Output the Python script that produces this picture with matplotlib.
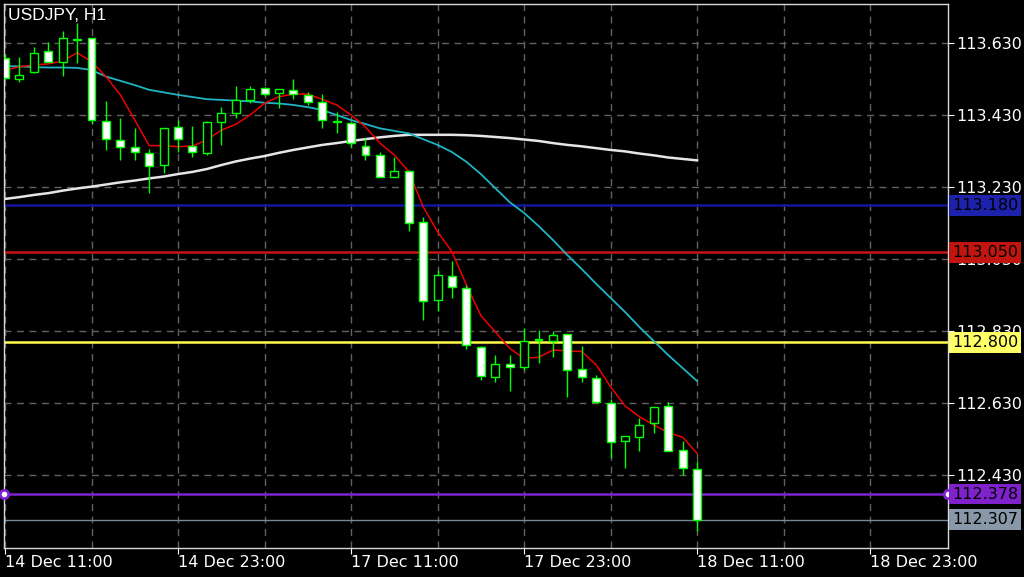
#IMPORTS
import matplotlib
matplotlib.use('Agg')
import matplotlib.pyplot as plt
import matplotlib.transforms as mtransforms

#DATA
# hourly bars, index 0 = 14 Dec 11:00, index 48 = 18 Dec 11:00
opens = [113.589, 113.531, 113.551, 113.609, 113.578, 113.640, 113.645, 113.414, 113.361, 113.342,
         113.325, 113.292, 113.398, 113.345, 113.326, 113.413, 113.436, 113.473, 113.505, 113.491,
         113.501, 113.487, 113.466, 113.413, 113.410, 113.346, 113.320, 113.260, 113.276, 113.133,
         112.917, 112.985, 112.951, 112.788, 112.703, 112.739, 112.730, 112.806, 112.804, 112.822,
         112.725, 112.701, 112.630, 112.526, 112.537, 112.575, 112.623, 112.501, 112.448]
highs = [113.600, 113.592, 113.620, 113.634, 113.665, 113.687, 113.646, 113.470, 113.423, 113.395,
         113.337, 113.396, 113.417, 113.400, 113.414, 113.454, 113.512, 113.512, 113.510, 113.503,
         113.530, 113.496, 113.489, 113.440, 113.411, 113.366, 113.329, 113.315, 113.279, 113.149,
         113.000, 113.026, 112.959, 112.789, 112.764, 112.764, 112.839, 112.834, 112.832, 112.824,
         112.789, 112.709, 112.641, 112.539, 112.589, 112.621, 112.635, 112.526, 112.471]
lows = [113.530, 113.523, 113.548, 113.578, 113.540, 113.576, 113.406, 113.334, 113.306, 113.306,
        113.214, 113.270, 113.328, 113.315, 113.320, 113.348, 113.422, 113.464, 113.485, 113.450,
        113.475, 113.459, 113.394, 113.380, 113.341, 113.306, 113.260, 113.259, 113.110, 112.862,
        112.888, 112.922, 112.781, 112.695, 112.690, 112.665, 112.723, 112.743, 112.760, 112.649,
        112.690, 112.632, 112.477, 112.451, 112.499, 112.549, 112.498, 112.431, 112.276]
closes = [113.534, 113.542, 113.603, 113.578, 113.645, 113.642, 113.417, 113.364, 113.342, 113.328,
          113.289, 113.395, 113.364, 113.328, 113.413, 113.436, 113.473, 113.502, 113.489, 113.502,
          113.489, 113.466, 113.417, 113.412, 113.352, 113.320, 113.260, 113.276, 113.132, 112.914,
          112.987, 112.954, 112.792, 112.706, 112.739, 112.730, 112.804, 112.808, 112.820, 112.723,
          112.703, 112.633, 112.522, 112.539, 112.570, 112.621, 112.499, 112.450, 112.307]

# moving averages
ma_fast = [113.556, 113.565, 113.570, 113.573, 113.581, 113.604, 113.579, 113.538, 113.487, 113.417,
           113.346, 113.346, 113.343, 113.345, 113.362, 113.389, 113.405, 113.431, 113.464, 113.482,
           113.489, 113.489, 113.475, 113.459, 113.431, 113.398, 113.353, 113.320, 113.274, 113.176,
           113.107, 113.051, 112.959, 112.874, 112.829, 112.783, 112.755, 112.758, 112.778, 112.776,
           112.774, 112.737, 112.676, 112.623, 112.593, 112.570, 112.549, 112.536, 112.491]
ma_mid = [113.567, 113.566, 113.564, 113.563, 113.563, 113.562, 113.556, 113.538, 113.526, 113.514,
          113.501, 113.494, 113.487, 113.481, 113.475, 113.473, 113.471, 113.469, 113.465, 113.463,
          113.459, 113.453, 113.445, 113.431, 113.417, 113.406, 113.394, 113.387, 113.380, 113.364,
          113.348, 113.328, 113.301, 113.267, 113.228, 113.189, 113.159, 113.123, 113.084, 113.042,
          113.003, 112.962, 112.923, 112.884, 112.842, 112.803, 112.764, 112.728, 112.692]
ma_slow = [113.198, 113.203, 113.209, 113.214, 113.221, 113.227, 113.232, 113.238, 113.244, 113.249,
           113.255, 113.260, 113.267, 113.273, 113.281, 113.292, 113.302, 113.310, 113.317, 113.326,
           113.334, 113.341, 113.348, 113.353, 113.359, 113.364, 113.369, 113.373, 113.376, 113.376,
           113.376, 113.376, 113.375, 113.373, 113.370, 113.367, 113.363, 113.359, 113.353, 113.348,
           113.344, 113.339, 113.334, 113.330, 113.324, 113.319, 113.313, 113.309, 113.305]

# horizontal levels and their label colours
levels = [113.180, 113.050, 112.800, 112.378, 112.307]
level_colors = ['#14149c', '#c81414', '#ffff4a', '#7f22d2', '#778899']
label_colors = ['#1e22aa', '#c0160f', '#ffff66', '#7f22cc', '#8898a8']

y_ticks = [113.630, 113.430, 113.230, 113.030, 112.830, 112.630, 112.430]
x_tick_pos = [0, 12, 24, 36, 48, 60]
x_tick_labels = ['14 Dec 11:00', '14 Dec 23:00', '17 Dec 11:00', '17 Dec 23:00',
                 '18 Dec 11:00', '18 Dec 23:00']

#FIGURE
fig = plt.figure(figsize=(10.24, 5.77), dpi=100, facecolor='black')
ax = fig.add_axes([4 / 1024, 1 - 548 / 577, 944 / 1024, 544 / 577])
ax.set_facecolor('black')
ax.set_xlim(-0.07, 65.4)
ax.set_ylim(112.2283, 113.7394)

# grid
ax.set_axisbelow(True)
ax.set_xticks(x_tick_pos)
ax.set_xticks([6, 18, 30, 42, 54], minor=True)
ax.set_yticks(y_ticks)
ax.grid(which='both', color='#626262', linestyle=(0, (5, 4)), linewidth=1)

# level lines
for lvl, col in zip(levels, level_colors):
    ax.axhline(lvl, color=col, linewidth=1 if lvl == levels[-1] else 1.8, zorder=1)
ax.plot([-0.07, 65.4], [levels[3], levels[3]], 'o', ms=6, mfc='white', mec=level_colors[3],
        mew=2, clip_on=False, zorder=4)

# moving averages
idx = list(range(len(closes)))
ax.plot(idx, ma_slow, color='#e6e6e6', linewidth=1.8, zorder=2)
ax.plot(idx, ma_mid, color='#1fb4c4', linewidth=1.3, zorder=2)
ax.plot(idx, ma_fast, color='#f00000', linewidth=1.1, zorder=2)

# candles
ax.vlines(idx, lows, highs, color='#00ff00', linewidth=1, zorder=3)
bottoms = [min(o, c) for o, c in zip(opens, closes)]
heights = [max(abs(c - o), 0.0015) for o, c in zip(opens, closes)]
fills = ['black' if c >= o else 'white' for o, c in zip(opens, closes)]
ax.bar(idx, heights, bottom=bottoms, width=0.55, color=fills, edgecolor='#00ff00',
       linewidth=1, zorder=3.5)

# axes styling
for s in ax.spines.values():
    s.set_color('#d8d8d8')
    s.set_linewidth(1)
ax.yaxis.tick_right()
ax.set_yticklabels([f'{v:.3f}' for v in y_ticks])
ax.set_xticklabels(x_tick_labels)
for lbl in ax.get_xticklabels():
    lbl.set_ha('left')
ax.tick_params(which='major', colors='white', labelsize=11.5, length=4, pad=2)
ax.tick_params(axis='x', which='major', pad=1)
ax.tick_params(which='minor', length=0)

# price labels on the right
trans = mtransforms.blended_transform_factory(ax.transAxes, ax.transData)
for lvl, col in zip(levels, label_colors):
    ax.text(1.0 + 4 / 944, lvl, f'{lvl:.3f}', transform=trans, ha='left', va='center',
            fontsize=11.5, color='black', clip_on=False, zorder=6,
            bbox=dict(boxstyle='square,pad=0.18', fc=col, ec='none'))

fig.text(8 / 1024, 1 - 16 / 577, 'USDJPY, H1', color='white', fontsize=12.5, va='center',
         family='Liberation Sans')

fig.savefig('out.png', dpi=100, facecolor='black')
